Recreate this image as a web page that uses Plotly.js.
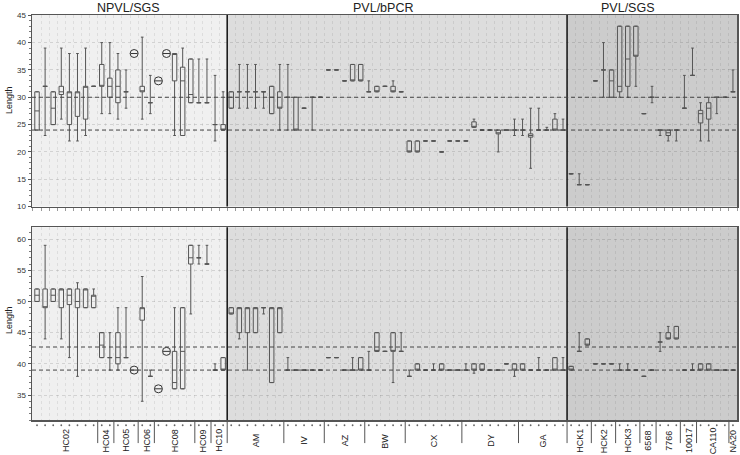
<!DOCTYPE html>
<html>
<head>
<meta charset="utf-8">
<script src="https://cdn.plot.ly/plotly-3.0.1.min.js"></script>
<style>
  html, body { margin: 0; padding: 0; background: #fff; }
  #graph { width: 740px; height: 455px; }
</style>
</head>
<body>
<div id="graph"></div>
<script>
// samples are numbered 1..87 along the x axis
var groupNames = ['NPVL/SGS', 'PVL/bPCR', 'PVL/SGS'];
var groupStart = [1, 25, 67];
var groupEnd = [24, 66, 87];

var subNames = ['HC02','HC04','HC05','HC06','HC08','HC09','HC10','AM','IV','AZ','BW','CX','DY','GA',
                'HCK1','HCK2','HCK3','6568','7766','10017','CA110','NA20'];
var subStart = [1, 9, 11, 14, 16, 21, 23, 25, 32, 37, 42, 47, 54, 61, 67, 70, 73, 76, 78, 81, 83, 87];
var subEnd   = [8, 10, 13, 15, 20, 22, 24, 31, 36, 41, 46, 53, 60, 66, 69, 72, 75, 77, 80, 82, 86, 87];

// top panel box stats (null = single-value sample, drawn as circle)
var topLo = [24,23,25,26,22,22,23,32,27,27,26,28,null,26,27,null,null,23,23,29,29,29,22,24,
  28,28,28,28,28,27,24, 24,24,28,24,30, 35,35,33,33,33, 31,31,32,31,31,
  20,20,22,22,20,22,22, 22,24.5,24,24,20,24,23, 23,17,24,24,24,24,
  16,14,14, 33,30,30, 30,30,32, 27,29, 23,22,22, 28,34, 22,22,27,30, 31];
var topQ1 = [24,32,25,30.5,25,26.5,26,32,32,30,29,31,null,31,29,null,null,33,23,29,29,29,25,24,
  28,31,31,31,31,27,28, 30,24,28,30,30, 35,35,33,33,33, 31,31,32,31,31,
  20,20,22,22,20,22,22, 22,24.5,24,24,23.3,24,24, 24,22.7,24,24,24,24,
  16,14,14, 33,35,30, 31,32,37.5, 27,30, 24,23,24, 28,34, 25.3,26,30,30, 31];
var topMed = [27.5,32,28,31,31,31,32,32,32,32,32,31,null,31,29,null,null,38,33,30.5,29,29,25,24,
  30,31,31,31,31,30,28, 30,24,28,30,30, 35,35,33,33,33, 31,31,32,31,31,
  20,20,22,22,20,22,22, 22,24.5,24,24,23.5,24,24, 24,23,24,24,24,24,
  16,14,14, 33,35,33, 32,37,37.5, 27,30, 24,23.5,24, 28,34, 27,28,30,30, 31];
var topQ3 = [31,32,31,32,31,31,32,32,36,33.5,35,31,null,32,29,null,null,38,35.5,37,29,29,25,25,
  31,31,31,31,31,32,31, 30,30,28,30,30, 35,35,33,36,36, 31,32,32,32,31,
  22,22,22,22,20,22,22, 22,25.5,24,24,24,24,24, 24,23.3,24,24,26,24,
  16,14,14, 33,35,35, 43,43,43, 27,30, 24,24,24, 28,34, 27.6,29,30,30, 31];
var topHi = [31,39,31,39,38,38,39,32,40,40,38,35,null,41,34,null,null,38,39,37,37,37,34,31,
  31,36,36,36,31,32,36, 36,30,28,30,30, 35,35,33,36,36, 33,32,32,33,31,
  22,22,22,22,20,22,22, 22,26,24,24,24,24,26, 26,28,28,24.5,27,26,
  16,16,14, 33,40,35, 43,43,43, 27,32, 24,24,24, 34,39, 29,30,30,30, 35];

// bottom panel box stats
var botLo = [50,44,50,44,41,38,49,49,41,39,39,41,null,34,38,null,null,36,36,48,56,56,39,39,
  48,44,39,45,48,37,45, 39,39,39,39,39, 41,41,39,39,39, 39,42,42,37,42,
  38,39,39,39,39,39,39, 39,38.5,39,39,39,40,38, 39,39,39,39,39,39,
  39,42,43, 40,40,40, 39,39,39, 38,39, 42,44,44, 39,39, 39,39,39,39, 39];
var botQ1 = [50,49,50,49,49.5,49,49,49,41,41,40,41,null,47,38,null,null,36,36,56,57,56,39,39,
  48,45,45,45,49,37,45, 39,39,39,39,39, 41,41,39,39,39, 39,42,42,42,42,
  38,39,39,39,39,39,39, 39,39,39,39,39,40,39, 39,39,39,39,39,39,
  39,42,43, 40,40,40, 39,39,39, 38,39, 43.5,44,44, 39,39, 39,39,39,39, 39];
var botMed = [51,49,51,52,51,50,52,51,43,41,41,41,null,49,38,null,null,37,42,57,57,56,39,39,
  48,49,49,49,49,49,49, 39,39,39,39,39, 41,41,39,39,39, 39,42,42,42,42,
  38,39,39,39,39,39,39, 39,39,39,39,39,40,39, 39,39,39,39,39,39,
  39,42,43, 40,40,40, 39,39,39, 38,39, 43.5,44,44, 39,39, 39,39,39,39, 39];
var botQ3 = [52,52,52,52,52,52,52,51,45,41,45,41,null,49,38,null,null,42,49,59,57,56,39,41,
  49,49,49,49,49,49,49, 39,39,39,39,39, 41,41,39,39,41, 39,45,42,45,42,
  38,40,39,39,40,39,39, 39,40,40,39,39,40,40, 40,39,39,39,41,39,
  39.6,42,44, 40,40,40, 39,39,39, 38,39, 43.5,45,46, 39,39, 40,40,39,39, 39];
var botHi = [52,59,52,52,52,53,52,52,45,45,49,49,null,54,39,null,null,49,49,59,59,59,40,41,
  49,49,49,49,49,49,49, 41,39,39,39,39, 41,41,39,41,41, 42,45,42,45,45,
  39,40,39,40,40,39,39, 40,40,40,39,39,40,40, 40,39,41,39,41,41,
  39.6,45,44, 40,40,40, 40,40,39, 38,39, 45,46,46, 39,40, 40,40,39,39, 39];

// single-value samples
var circX = [13, 16, 17];
var topCirc = [38, 33, 38];
var botCirc = [39, 36, 42];

// dashed reference lines
var refTop = [30, 24];
var refBot = [42.7, 39];

var bgColors = ['#f0f0f0', '#dddddd', '#cccccc'];
var xRange = [0.38, 87.5];
var lineCol = '#555';

function boxTrace(lo, q1, med, q3, hi, xa, ya) {
  var t = {type: 'box', x: [], q1: [], median: [], q3: [], lowerfence: [], upperfence: [],
    xaxis: xa, yaxis: ya, width: 0.55, whiskerwidth: 0.6, boxpoints: false,
    line: {color: lineCol, width: 1}, fillcolor: 'rgba(0,0,0,0)', showlegend: false};
  for (var i = 0; i < lo.length; i++) {
    if (lo[i] === null) continue;
    t.x.push(i + 1);
    t.q1.push(q1[i]); t.median.push(med[i]); t.q3.push(q3[i]);
    t.lowerfence.push(lo[i]); t.upperfence.push(hi[i]);
  }
  return t;
}

function circles(vals, xa, ya) {
  return [
    {type: 'scatter', mode: 'markers', x: circX, y: vals, xaxis: xa, yaxis: ya, showlegend: false,
     marker: {symbol: 'circle-open', size: 8, color: '#333', line: {width: 1, color: '#333'}}},
    {type: 'scatter', mode: 'markers', x: circX, y: vals, xaxis: xa, yaxis: ya, showlegend: false,
     marker: {symbol: 'line-ew-open', size: 5, color: '#333', line: {width: 1, color: '#333'}}}
  ];
}

var nSamples = groupEnd[groupEnd.length - 1];
var halfTicks = [];
for (var k = 0; k <= nSamples; k++) halfTicks.push(k + 0.5);

var data = [
  boxTrace(topLo, topQ1, topMed, topQ3, topHi, 'x2', 'y2'),
  boxTrace(botLo, botQ1, botMed, botQ3, botHi, 'x', 'y')
].concat(circles(topCirc, 'x2', 'y2'), circles(botCirc, 'x', 'y'));

var shapes = [];
var panels = [['x', 'y', refBot], ['x2', 'y2', refTop]];
panels.forEach(function (p) {
  for (var g = 0; g < groupNames.length; g++) {
    shapes.push({type: 'rect', xref: p[0], yref: p[1] + ' domain', layer: 'below',
      x0: g === 0 ? xRange[0] : groupStart[g] - 0.5,
      x1: g === groupNames.length - 1 ? xRange[1] : groupEnd[g] + 0.5,
      y0: 0, y1: 1, fillcolor: bgColors[g], line: {width: 0}});
    if (g > 0) {
      shapes.push({type: 'line', xref: p[0], yref: p[1] + ' domain',
        x0: groupStart[g] - 0.5, x1: groupStart[g] - 0.5, y0: 0, y1: 1,
        line: {color: '#111', width: 1.5}});
    }
  }
  p[2].forEach(function (v) {
    shapes.push({type: 'line', xref: p[0] + ' domain', yref: p[1], x0: 0, x1: 1, y0: v, y1: v,
      line: {color: '#444', width: 1, dash: '4px,3px'}});
  });
});
for (var s = 0; s < subNames.length - 1; s++) {
  shapes.push({type: 'line', xref: 'x', yref: 'paper', x0: subEnd[s] + 0.5, x1: subEnd[s] + 0.5,
    y0: 0, y1: -0.057, line: {color: '#555', width: 1}});
}
// sample marker dots under the bottom panel
for (var k = 1; k <= nSamples; k++) {
  shapes.push({type: 'circle', xref: 'x', yref: 'paper', xsizemode: 'pixel', ysizemode: 'pixel',
    xanchor: k, yanchor: -0.013, x0: -0.9, x1: 0.9, y0: -0.9, y1: 0.9,
    fillcolor: '#666', line: {width: 0}});
}

var annotations = [];
var titleShift = [-2, -14, -24];
for (var g = 0; g < groupNames.length; g++) {
  annotations.push({text: groupNames[g], xref: 'x2', yref: 'paper',
    x: (groupStart[g] + groupEnd[g]) / 2, y: 1.017, xshift: titleShift[g],
    showarrow: false, font: {size: 12.5, color: '#222'}, xanchor: 'center', yanchor: 'middle'});
}
for (var s = 0; s < subNames.length; s++) {
  annotations.push({text: subNames[s], xref: 'x', yref: 'paper',
    x: (subStart[s] + subEnd[s]) / 2, y: -0.051, textangle: -90,
    showarrow: false, font: {size: 9, color: '#222'}, xanchor: 'center', yanchor: 'middle'});
}
[0.79, 0.247].forEach(function (yy) {
  annotations.push({text: 'Length', xref: 'paper', yref: 'paper', x: -0.0326, y: yy,
    textangle: -90, showarrow: false, font: {size: 9, color: '#222'},
    xanchor: 'center', yanchor: 'middle'});
});

var xBase = {range: xRange, tickmode: 'array', tickvals: halfTicks, showticklabels: false,
  showgrid: true, gridcolor: 'rgba(0,0,0,0.08)', griddash: 'dot', zeroline: false,
  showline: true, mirror: true, linecolor: lineCol, linewidth: 1.5};
var yBase = {dtick: 5, tick0: 0, ticks: 'outside', ticklen: 3, tickcolor: '#555',
  tickfont: {size: 8, color: '#333'}, showgrid: true, gridcolor: 'rgba(0,0,0,0.12)',
  griddash: 'dot', zeroline: false, showline: true, mirror: true, linecolor: lineCol,
  linewidth: 1.5, automargin: false,
  minor: {ticks: 'outside', ticklen: 2, dtick: 1, tickcolor: '#777', showgrid: false}};

var layout = {
  width: 740, height: 455,
  margin: {l: 32, r: 3, t: 15, b: 35},
  paper_bgcolor: '#fff', plot_bgcolor: '#fff',
  font: {family: 'Liberation Sans, Arial, sans-serif'},
  showlegend: false,
  xaxis: Object.assign({}, xBase, {anchor: 'y', ticks: ''}),
  xaxis2: Object.assign({}, xBase, {anchor: 'y2', ticks: 'outside', ticklen: 3, tickcolor: '#999'}),
  yaxis: Object.assign({}, yBase, {domain: [0, 0.476], range: [31, 61.9], anchor: 'x'}),
  yaxis2: Object.assign({}, yBase, {domain: [0.527, 1], range: [10, 45.05], anchor: 'x2'}),
  shapes: shapes,
  annotations: annotations
};

Plotly.newPlot('graph', data, layout, {staticPlot: true});
</script>
</body>
</html>
